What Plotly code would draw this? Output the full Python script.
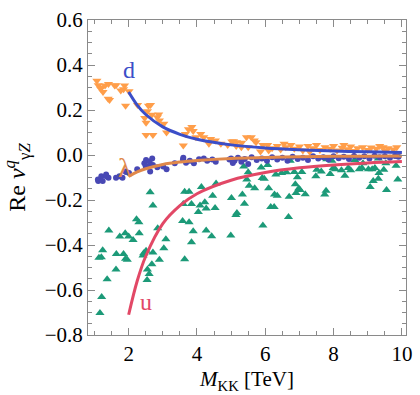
import plotly.graph_objects as go

# puntos de escaneo: quark d (triangulos naranjas)
d_x = [1.07, 1.11, 1.18, 1.25, 1.21, 1.31, 1.41, 1.44, 1.40, 1.59, 1.63, 1.77, 1.85, 1.88, 2.01,
       1.91, 2.26, 2.58, 2.64, 2.55, 2.47, 2.51, 2.68, 2.84, 2.88, 2.90, 3.03, 3.11, 2.51, 2.71,
       3.60, 3.66, 3.75, 3.85, 3.89, 3.97, 4.11, 4.20, 4.35, 4.40, 4.54, 4.70, 4.90, 5.02, 5.07,
       5.15, 5.16, 5.30, 5.31, 5.45, 5.50, 5.59, 5.68, 5.73, 5.86, 5.93, 6.07, 6.10, 6.20, 6.35,
       6.45, 6.55, 6.60, 6.75, 6.85, 7.00, 7.10, 7.25, 7.30, 7.40, 7.50, 7.60, 7.75, 7.90, 8.00,
       8.10, 8.25, 8.30, 8.40, 8.50, 8.60, 8.70, 8.85, 9.00, 9.10, 9.25, 9.35, 9.45, 9.50, 9.60,
       9.75, 9.85]
d_y = [0.330, 0.310, 0.295, 0.280, 0.300, 0.309, 0.316, 0.244, 0.250, 0.309, 0.310, 0.287, 0.292, 0.309, 0.283,
       0.219, 0.222, 0.219, 0.222, 0.194, 0.165, 0.143, 0.179, 0.168, 0.180, 0.153, 0.139, 0.100, 0.089, 0.089,
       0.042, 0.093, 0.114, 0.124, 0.107, 0.079, 0.093, 0.079, 0.050, 0.071, 0.064, 0.050, 0.045, 0.060, 0.061,
       0.040, 0.057, 0.035, 0.054, 0.079, 0.035, 0.079, 0.064, 0.057, 0.016, 0.045, 0.045, 0.020, 0.030, 0.040,
       0.025, 0.050, 0.035, 0.045, 0.028, 0.038, 0.020, 0.040, 0.015, 0.030, 0.045, 0.022, 0.035, 0.028, 0.040,
       0.020, 0.032, 0.045, 0.026, 0.038, 0.018, 0.030, 0.035, 0.022, 0.033, 0.028, 0.040, 0.035, 0.020, 0.030,
       0.025, 0.035]

# lambda (circulos azules)
l_x = [1.10, 1.11, 1.20, 1.24, 1.34, 1.35, 1.41, 1.63, 1.73, 1.82, 1.91, 1.93, 2.01, 2.25, 2.46,
       2.51, 2.61, 2.58, 2.50, 2.69, 2.71, 2.63, 2.84, 3.01, 3.11, 3.35, 3.60, 3.59, 3.68, 3.79,
       3.91, 4.06, 4.20, 4.30, 4.45, 4.55, 4.95, 5.00, 5.05, 5.10, 5.20, 5.30, 5.40, 5.50, 5.60,
       5.75, 5.90, 6.05, 6.20, 6.35, 6.50, 6.65, 6.80, 6.95, 7.10, 7.25, 7.40, 7.55, 7.70, 7.85,
       8.00, 8.15, 8.30, 8.45, 8.60, 8.75, 8.90, 9.05, 9.20, 9.35, 9.50, 9.65, 9.80, 9.90]
l_y = [-0.109, -0.116, -0.094, -0.116, -0.087, -0.094, -0.101, -0.101, -0.094, -0.101, -0.073, -0.075, -0.080, -0.063, -0.037,
       -0.022, -0.029, -0.051, -0.051, -0.015, -0.044, -0.073, -0.054, -0.051, -0.063, -0.037, -0.012, -0.020, -0.034, -0.025,
       -0.037, -0.019, -0.015, -0.025, -0.020, -0.030, -0.020, -0.015, -0.035, -0.025, -0.012, -0.030, -0.018, -0.040, -0.010,
       -0.022, -0.015, -0.025, -0.010, -0.020, -0.012, -0.025, -0.008, -0.018, -0.012, -0.022, -0.006, -0.015, -0.010, -0.020,
       -0.005, -0.014, -0.008, -0.018, -0.004, -0.012, -0.006, -0.015, -0.003, -0.010, -0.005, -0.012, -0.004, -0.008]

# quark u (triangulos verdes)
u_x = [1.16, 1.21, 1.37, 1.63, 1.13, 1.20, 1.24, 1.42, 1.64, 1.74, 1.85, 1.90, 1.91, 1.96, 2.00,
       2.13, 2.23, 2.30, 2.31, 2.42, 2.44, 2.51, 2.54, 2.55, 2.60, 2.63, 2.68, 2.71, 2.71, 2.85,
       2.90, 3.03, 3.09, 3.58, 3.60, 3.64, 3.64, 3.77, 3.77, 3.84, 3.84, 3.89, 4.04, 4.09, 4.13,
       4.23, 4.27, 4.27, 4.43, 4.46, 4.53, 4.56, 4.99, 5.01, 5.14, 5.17, 5.33, 5.37, 5.39, 5.46,
       5.50, 5.53, 5.69, 5.88, 5.91, 5.93, 5.97, 6.07, 6.10, 6.16, 6.26, 6.27, 6.31, 6.35, 6.48,
       6.62, 6.68, 6.70, 6.73, 6.85, 6.88, 6.90, 6.94, 6.98, 7.02, 7.07, 7.17, 7.48, 7.51, 7.64,
       7.74, 7.78, 7.80, 7.90, 7.95, 7.99, 8.05, 8.23, 8.33, 8.43, 8.50, 8.62, 8.75, 8.83, 8.86,
       9.02, 9.07, 9.13, 9.16, 9.21, 9.31, 9.31, 9.33, 9.47, 9.53, 9.55, 9.83, 9.88]
u_y = [-0.702, -0.631, -0.552, -0.509, -0.457, -0.454, -0.423, -0.336, -0.440, -0.362, -0.440, -0.348, -0.461, -0.466, -0.362,
       -0.378, -0.286, -0.299, -0.348, -0.447, -0.437, -0.425, -0.555, -0.509, -0.529, -0.166, -0.486, -0.224, -0.433, -0.325,
       -0.466, -0.414, -0.374, -0.293, -0.218, -0.163, -0.463, -0.163, -0.299, -0.218, -0.388, -0.339, -0.253, -0.224, -0.142,
       -0.210, -0.238, -0.336, -0.361, -0.181, -0.235, -0.127, -0.358, -0.191, -0.267, -0.258, -0.175, -0.051, -0.217, -0.109,
       -0.077, -0.137, -0.148, -0.055, -0.102, -0.313, -0.106, -0.044, -0.148, -0.231, -0.231, -0.176, -0.087, -0.181, -0.080,
       -0.077, -0.276, -0.185, -0.025, -0.076, -0.130, -0.169, -0.099, -0.149, -0.156, -0.076, -0.174, -0.094, -0.066, -0.073,
       -0.175, -0.159, -0.019, -0.084, -0.025, -0.058, -0.063, -0.068, -0.092, -0.058, -0.068, -0.022, -0.063, -0.058, -0.037,
       -0.063, -0.142, -0.063, -0.116, -0.058, -0.015, -0.106, -0.080, -0.066, -0.037, -0.155, -0.048, -0.109]

# curvas analiticas
curve_x = [2.0, 2.25, 2.5, 3.0, 3.5, 4.0, 5.0, 6.0, 7.0, 8.0, 9.0, 10.0]
curve_d = [0.280, 0.222, 0.180, 0.125, 0.092, 0.070, 0.045, 0.031, 0.023, 0.018, 0.014, 0.011]
curve_l = [-0.095, -0.075, -0.061, -0.042, -0.031, -0.024, -0.015, -0.011, -0.008, -0.006, -0.005, -0.004]
curve_u = [-0.710, -0.560, -0.450, -0.305, -0.225, -0.172, -0.112, -0.078, -0.057, -0.044, -0.035, -0.029]

x_ticks = [2, 4, 6, 8, 10]
y_ticks = [-0.8, -0.6, -0.4, -0.2, 0.0, 0.2, 0.4, 0.6]

SERIF = "Liberation Serif, Times New Roman, serif"

fig = go.Figure()

fig.add_trace(go.Scatter(x=u_x, y=u_y, mode="markers",
                         marker=dict(symbol="triangle-up", size=8, color="#1c9a78")))
fig.add_trace(go.Scatter(x=d_x, y=d_y, mode="markers",
                         marker=dict(symbol="triangle-down", size=8, color="#ff9e4a")))
fig.add_trace(go.Scatter(x=l_x, y=l_y, mode="markers",
                         marker=dict(symbol="circle", size=6, color="#4848b4")))

fig.add_trace(go.Scatter(x=curve_x, y=curve_d, mode="lines", line_shape="spline",
                         line=dict(color="#3b4ec8", width=3)))
fig.add_trace(go.Scatter(x=curve_x, y=curve_l, mode="lines", line_shape="spline",
                         line=dict(color="#e0884a", width=3)))
fig.add_trace(go.Scatter(x=curve_x, y=curve_u, mode="lines", line_shape="spline",
                         line=dict(color="#e24866", width=3)))

# etiquetas de las curvas
for txt, xx, yy, size, col in [("d", 2.02, 0.378, 24, "#3b4ec8"),
                               ("λ", 1.88, -0.055, 28, "#e0884a"),
                               ("u", 2.52, -0.655, 24, "#e24866")]:
    fig.add_annotation(x=xx, y=yy, text=txt, showarrow=False,
                       font=dict(family=SERIF, size=size, color=col))

axis_common = dict(
    showgrid=False, zeroline=False, showline=True, linecolor="#8a8a8a", linewidth=1,
    mirror="ticks", ticks="inside", ticklen=7, tickcolor="#8a8a8a",
    tickfont=dict(family=SERIF, size=21, color="black"),
)

fig.update_xaxes(
    range=[0.81, 10.12], tickvals=x_ticks,
    minor=dict(dtick=0.5, tick0=0, ticks="inside", ticklen=4, tickcolor="#8a8a8a"),
    title=dict(text="<i>M</i><sub>KK</sub> [TeV]", standoff=6,
               font=dict(family=SERIF, size=21, color="black")),
    **axis_common,
)
fig.update_yaxes(
    range=[-0.8, 0.6], tickvals=y_ticks, tickformat=".1f",
    minor=dict(dtick=0.05, tick0=0, ticks="inside", ticklen=4, tickcolor="#8a8a8a"),
    title=dict(text="Re <i>v</i><sup><i>q</i></sup><sub>γ<i>Z</i></sub>", standoff=14,
               font=dict(family=SERIF, size=24, color="black")),
    **axis_common,
)

fig.update_layout(
    width=420, height=395,
    margin=dict(l=88, r=8, t=12, b=58),
    plot_bgcolor="white", paper_bgcolor="white",
    showlegend=False,
)

# sin margen del body, para que la figura empiece en (0, 0)
fig.write_html("out.html", config={"displayModeBar": False},
               post_script="document.body.style.margin='0';")
